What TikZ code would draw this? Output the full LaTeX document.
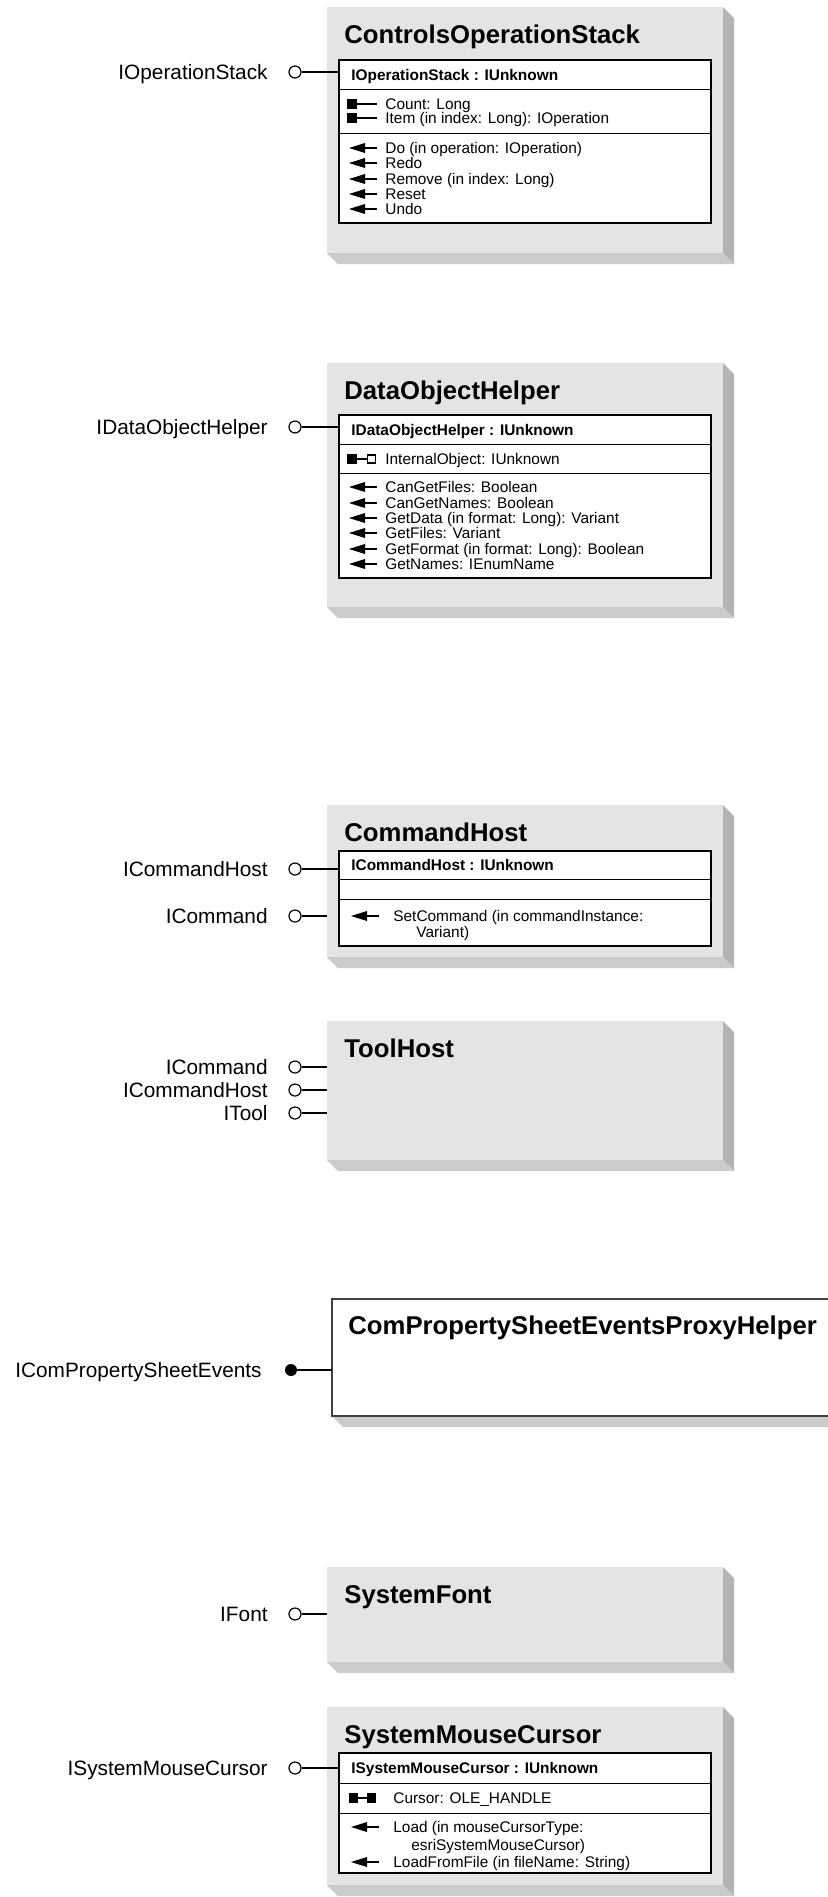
\documentclass[tikz,border=0pt]{standalone}
\usepackage{fontspec}
\setmainfont{Liberation Sans}
\definecolor{facegray}{HTML}{E4E4E4}
\definecolor{shadowdark}{HTML}{B4B4B4}
\definecolor{shadowlight}{HTML}{CBCBCB}
\definecolor{boxborder}{HTML}{404040}
\tikzset{
  inner/.style={draw=black, fill=white, line width=0.7pt},
  div/.style={draw=black, line width=0.45pt},
  ttl/.style={font=\fontsize{12.85}{14}\selectfont\bfseries, inner sep=0pt, anchor=base west},
  lab/.style={font=\fontsize{10.4}{12}\selectfont, inner sep=0pt, anchor=base east},
  hdr/.style={font=\fontsize{7.7}{9}\selectfont\bfseries, inner sep=0pt, anchor=base west},
  mem/.style={font=\fontsize{7.7}{9}\selectfont, inner sep=0pt, anchor=base west},
  lolli/.style={circle, draw=black, fill=white, line width=0.6pt, minimum size=6pt, inner sep=0pt},
  dotend/.style={circle, fill=black, minimum size=6pt, inner sep=0pt},
  conn/.style={line width=0.7pt},
}
\newcounter{nn}
\newcommand\txt[4]{\stepcounter{nn}\node[#1] (n\arabic{nn}) at (#2,#3) {#4};}
\newcommand\classface[2]{%
  \fill[facegray] (327,#1) rectangle (723,#2);
  \fill[shadowdark] (723,#1) -- (734,#1+11) -- (734,#2+11) -- (723,#2) -- cycle;
  \fill[shadowlight] (327,#2) -- (723,#2) -- (734,#2+11) -- (338,#2+11) -- cycle;}
\newcommand\mget[1]{\fill (347,#1-5) rectangle (357,#1+5); \draw[conn] (357,#1) -- (377,#1);}
\newcommand\mgetref[1]{\fill (347,#1-5) rectangle (357,#1+5); \draw[conn] (357,#1) -- (367,#1);
  \draw[line width=0.65pt, fill=white] (367.5,#1-4) rectangle (375.5,#1+4);}
\newcommand\mgetput[1]{\fill (349,#1-5) rectangle (358,#1+5); \draw[conn] (358,#1) -- (367,#1);
  \fill (367,#1-5) rectangle (376,#1+5);}
\newcommand\mmeth[2]{\fill (#1,#2) -- (#1+16,#2-5) -- (#1+16,#2+5) -- cycle;
  \draw[conn] (#1+15,#2) -- (#1+28,#2);}
\newcommand\lollipop[4]{% name, y, attach x, label
  \node[lolli] (L#1) at (295,#2) {};
  \coordinate (A#1) at (#3,#2);
  \draw[conn] (L#1) -- (A#1);
  \node[lab] (T#1) at (268,#2+7.3) {#4};}
\begin{document}
\begin{tikzpicture}[x=0.5pt,y=-0.5pt]
\useasboundingbox (0,0) rectangle (828,1897);
\fill[white] (0,0) rectangle (828,1897);

% ---------- ControlsOperationStack
\classface{7}{253}
\draw[inner] (339,60) rectangle (711,223);
\draw[div] (339,89) -- (711,89) (339,133) -- (711,133);
\txt{ttl}{344}{43}{ControlsOperationStack}
\txt{hdr}{351}{80}{IOperationStack : IUnknown}
\mget{104}\txt{mem}{385}{109.5}{Count: Long}
\mget{118}\txt{mem}{385}{123.5}{Item (in index: Long): IOperation}
\mmeth{349}{148}\txt{mem}{385}{153.5}{Do (in operation: IOperation)}
\mmeth{349}{163}\txt{mem}{385}{168.5}{Redo}
\mmeth{349}{179}\txt{mem}{385}{184.5}{Remove (in index: Long)}
\mmeth{349}{194}\txt{mem}{385}{199.5}{Reset}
\mmeth{349}{209}\txt{mem}{385}{214.5}{Undo}
\lollipop{1}{72}{339}{IOperationStack}

% ---------- DataObjectHelper
\classface{363}{607}
\draw[inner] (339,415) rectangle (711,578);
\draw[div] (339,444) -- (711,444) (339,473) -- (711,473);
\txt{ttl}{344}{399}{DataObjectHelper}
\txt{hdr}{351}{435}{IDataObjectHelper : IUnknown}
\mgetref{459}\txt{mem}{385}{464.5}{InternalObject: IUnknown}
\mmeth{349}{487}\txt{mem}{385}{492.5}{CanGetFiles: Boolean}
\mmeth{349}{503}\txt{mem}{385}{508.5}{CanGetNames: Boolean}
\mmeth{349}{518}\txt{mem}{385}{523.5}{GetData (in format: Long): Variant}
\mmeth{349}{533}\txt{mem}{385}{538.5}{GetFiles: Variant}
\mmeth{349}{549}\txt{mem}{385}{554.5}{GetFormat (in format: Long): Boolean}
\mmeth{349}{564}\txt{mem}{385}{569.5}{GetNames: IEnumName}
\lollipop{2}{427}{339}{IDataObjectHelper}

% ---------- CommandHost
\classface{805}{957}
\draw[inner] (339,851) rectangle (711,946);
\draw[div] (339,879) -- (711,879) (339,899) -- (711,899);
\txt{ttl}{344}{841}{CommandHost}
\txt{hdr}{351}{870.5}{ICommandHost : IUnknown}
\mmeth{351}{916}\txt{mem}{393}{921.5}{SetCommand (in commandInstance:}
\txt{mem}{416}{937.5}{Variant)}
\lollipop{3}{869}{339}{ICommandHost}
\lollipop{4}{916}{327}{ICommand}

% ---------- ToolHost
\classface{1021}{1160}
\txt{ttl}{344}{1057}{ToolHost}
\lollipop{5}{1067}{327}{ICommand}
\lollipop{6}{1090}{327}{ICommandHost}
\lollipop{7}{1113}{327}{ITool}

% ---------- ComPropertySheetEventsProxyHelper
\fill[white] (332,1299) rectangle (828,1416);
\fill[shadowlight] (332,1416) -- (828,1416) -- (828,1427) -- (343,1427) -- cycle;
\draw[boxborder, line width=0.6pt] (828,1299) -- (332,1299) -- (332,1416) -- (828,1416);
\txt{ttl}{348}{1334}{ComPropertySheetEventsProxyHelper}
\node[dotend] (L8) at (291,1370) {};
\coordinate (A8) at (332,1370);
\draw[conn] (L8) -- (A8);
\node[lab] (T8) at (262,1377.3) {IComPropertySheetEvents};

% ---------- SystemFont
\classface{1567}{1662}
\txt{ttl}{344}{1603}{SystemFont}
\lollipop{9}{1614}{327}{IFont}

% ---------- SystemMouseCursor
\classface{1707}{1885}
\draw[inner] (339,1753) rectangle (711,1873);
\draw[div] (339,1783) -- (711,1783) (339,1813) -- (711,1813);
\txt{ttl}{344}{1743}{SystemMouseCursor}
\txt{hdr}{351}{1773.5}{ISystemMouseCursor : IUnknown}
\mgetput{1798}\txt{mem}{393}{1803.5}{Cursor: OLE\_HANDLE}
\mmeth{351}{1827}\txt{mem}{393}{1832.5}{Load (in mouseCursorType:}
\txt{mem}{411}{1850.5}{esriSystemMouseCursor)}
\mmeth{351}{1862}\txt{mem}{393}{1867.5}{LoadFromFile (in fileName: String)}
\lollipop{10}{1768}{339}{ISystemMouseCursor}
\end{tikzpicture}
\end{document}
